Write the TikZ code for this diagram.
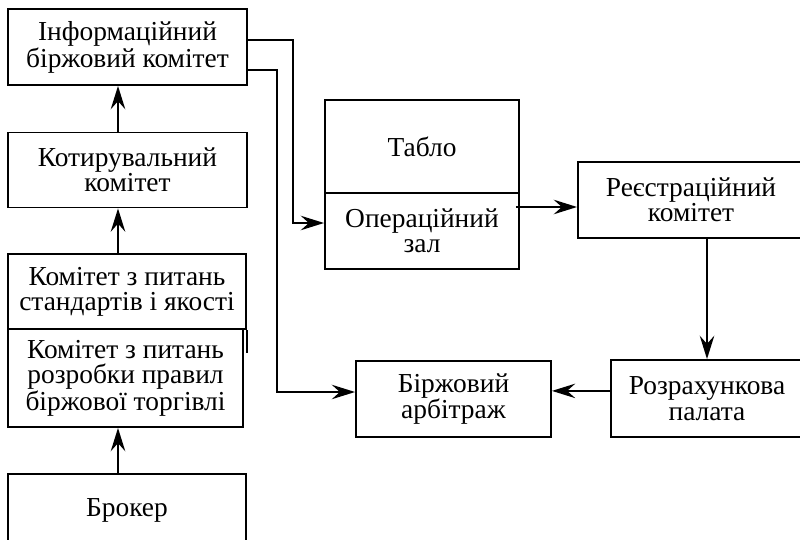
\documentclass[tikz,border=0pt]{standalone}
\usepackage{fontspec}
\setmainfont{Liberation Serif}
\usetikzlibrary{arrows.meta}

\tikzset{
  box/.style={draw, line width=1.3pt, align=center, inner sep=0pt,
    font=\fontsize{19.5}{18}\selectfont},
  arr/.style={line width=2pt, -{Stealth[length=0.58cm, width=0.36cm, inset=0.2cm]}},
  thin arr/.style={line width=1.5pt, -{Stealth[length=0.58cm, width=0.36cm, inset=0.2cm]}}
}

\begin{document}
\begin{tikzpicture}[x=0.025cm, y=-0.025cm]
    \useasboundingbox (0,0) rectangle (800,539);
    \clip (0,0) rectangle (800,539);
    % left column
    \node [box, minimum width=5.975cm, minimum height=1.9cm]   (info)   at (127.5,47)  {Інформаційний\\біржовий комітет};
    \node [box, minimum width=5.975cm, minimum height=1.875cm] (kotyr)  at (127.5,170) {Котирувальний\\комітет};
    \node [box, minimum width=5.95cm,  minimum height=1.875cm] (std)    at (127,291.5) {Комітет з питань\\стандартів і якості};
    \node [box, minimum width=5.875cm, minimum height=2.45cm]  (rules)  at (125.5,378) {Комітет з питань\\розробки правил\\біржової торгівлі};
    \node [box, minimum width=5.95cm,  minimum height=1.8cm]   (broker) at (127,510)   {Брокер};
    \draw [line width=1.3pt] (std.south east) -- ++(0,23);
    % middle
    \node [box, minimum width=4.85cm, minimum height=2.325cm] (tablo) at (422,146.5) {Табло};
    \node [box, minimum width=4.85cm, minimum height=1.9cm]   (oper)  at (422,231)   {Операційний\\зал};
    \node [box, minimum width=4.875cm, minimum height=1.9cm]  (arb)   at (453.5,399) {Біржовий\\арбітраж};
    % right
    \node [box, minimum width=5.65cm, minimum height=1.9cm]   (reg)   at (691,200)   {Реєстраційний\\комітет};
    \node [box, minimum width=4.8cm,  minimum height=1.925cm] (rozr)  at (707,398.5) {Розрахункова\\палата};

    % helper coordinates
    \coordinate (spine) at (118,0);
    \coordinate (bendA) at (293,0);
    \coordinate (bendB) at (277,0);
    \coordinate (operIn) at ([yshift=0.2cm]oper.west);
    \coordinate (arbIn)  at ([yshift=0.175cm]arb.west);
    \coordinate (operOut) at ([yshift=0.6cm, xshift=-0.1cm]oper.east);
    \coordinate (rozrOut) at ([yshift=0.19cm]rozr.west);

    % connectors
    \draw [arr] (spine |- broker.north) -- (spine |- rules.south);
    \draw [arr] (spine |- std.north) -- (spine |- kotyr.south);
    \draw [arr] (spine |- kotyr.north) -- (spine |- info.south);
    \draw [thin arr] ([yshift=0.175cm]info.east) -| (bendA |- operIn) -- (operIn);
    \draw [thin arr] ([yshift=-0.575cm]info.east) -| (bendB |- arbIn) -- (arbIn);
    \draw [arr] (operOut) -- (operOut -| reg.west);
    \draw [arr] (reg.south -| rozr.north) -- (rozr.north);
    \draw [thin arr] (rozrOut) -- (rozrOut -| arb.east);
\end{tikzpicture}
\end{document}
